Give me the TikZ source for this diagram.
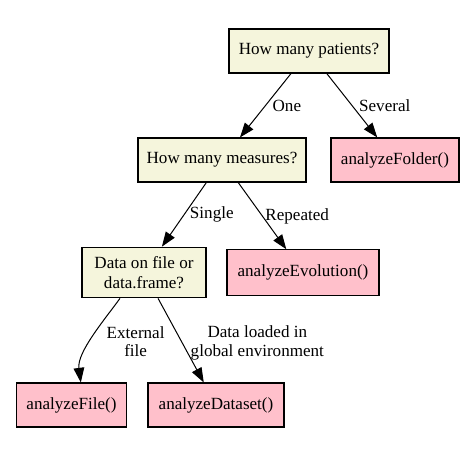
\documentclass[tikz,border=0pt]{standalone}
\usepackage{fontspec}
\setmainfont{Liberation Serif}
\usepackage{xcolor}
\usetikzlibrary{arrows.meta}

\definecolor{qbeige}{HTML}{F5F5DC}
\definecolor{fpink}{HTML}{FFC0CB}

\begin{document}
\begin{tikzpicture}[x=.75pt, y=-.75pt,
        font=\rmfamily\fontsize{12.8}{15}\selectfont,
        % Define styles for the boxes, the edges and their labels
        question/.style={draw, line width=.8pt, fill=qbeige, inner sep=0pt, minimum height=33pt, align=center},
        answer/.style={draw, line width=.8pt, fill=fpink, inner sep=0pt, minimum height=33pt},
        edge/.style={line width=.75pt, -{Triangle[length=11pt, width=8pt]}},
        lbl/.style={right, inner sep=2pt, align=center, font=\rmfamily\fontsize{12.8}{13.8}\selectfont}]

        \useasboundingbox (0,0) rectangle (476,457);

        % 1. Define the coordinates for the boxes
        \coordinate (P) at (309, 51);
        \coordinate (M) at (222, 160);
        \coordinate (F) at (395, 160);
        \coordinate (D) at (144, 272.5);
        \coordinate (E) at (303, 272.5);
        \coordinate (L) at (71.5, 405);
        \coordinate (S) at (216, 405);

        % 2. Place the questions and the functions
        \node[question, minimum width=120pt] (patients) at (P) {How many patients?};
        \node[question, minimum width=126pt] (measures) at (M) {How many measures?};
        \node[answer, minimum width=96pt] (folder) at (F) {analyzeFolder()};
        \node[question, minimum width=93pt, minimum height=38pt] (source) at (D) {Data on file or\\data.frame?};
        \node[answer, minimum width=114pt, minimum height=34pt] (evolution) at (E) {analyzeEvolution()};
        \node[answer, minimum width=83pt] (file) at (L) {analyzeFile()};
        \node[answer, minimum width=102pt] (dataset) at (S) {analyzeDataset()};

        % 3. Draw the edges with their labels
        \draw[edge] (patients) -- node[lbl, xshift=3pt] (one) {One} (measures);
        \draw[edge] (patients) -- node[lbl, xshift=3pt] (several) {Several} (folder);
        \draw[edge] (measures) -- node[lbl, xshift=2pt] (single) {Single} (source);
        \draw[edge] (measures) -- node[lbl] (repeated) {Repeated} (evolution);
        \draw[edge] ([xshift=-18pt]source.south) .. controls +(-16,22) and +(-4,-30) .. ([xshift=7pt]file.north)
                node[lbl, pos=.5, xshift=8pt, yshift=-3pt] (external) {External\\file};
        \draw[edge] (source) -- node[lbl, xshift=5pt, yshift=-2pt] (loaded) {Data loaded in\\global environment} (dataset);
    \end{tikzpicture}
\end{document}
